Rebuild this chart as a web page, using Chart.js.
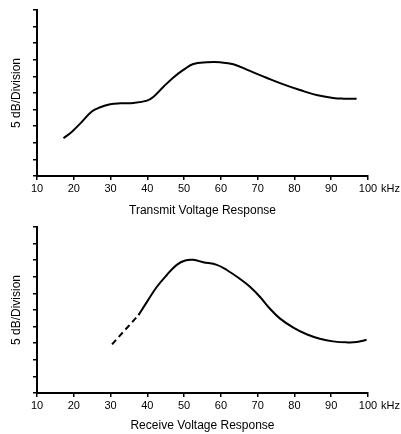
<!DOCTYPE html>
<html>
<head>
<meta charset="utf-8">
<script src="https://cdn.jsdelivr.net/npm/chart.js@4/dist/chart.umd.min.js"></script>
<style>
    body { margin: 0; background: #fff; }
    #wrap { position: relative; width: 401px; height: 434px; }
    canvas { position: absolute; left: 0; }
    #transmitChart { top: 0; }
    #receiveChart { top: 220px; }
</style>
</head>
<body>
<div id="wrap">
    <canvas id="transmitChart" width="401" height="220"></canvas>
    <canvas id="receiveChart" width="401" height="214"></canvas>
</div>
<script>
// frequency axis (kHz)
const freqTicks = [10, 20, 30, 40, 50, 60, 70, 80, 90, 100];

// level in divisions (5 dB per division)
const transmitFreq = [17.2, 19.5, 21.8, 24.9, 27.2, 29.9, 32.6, 36.2, 39.9, 41.7, 44.4, 47.1, 49.8, 52.5, 56.2, 59.8, 63.4, 67.9, 72.4, 77.0, 81.5, 86.0, 90.5, 93.3, 96.9];
const transmitLevel = [2.27, 2.67, 3.17, 3.88, 4.14, 4.32, 4.38, 4.40, 4.54, 4.78, 5.38, 5.94, 6.39, 6.75, 6.85, 6.85, 6.73, 6.33, 5.92, 5.52, 5.18, 4.88, 4.70, 4.66, 4.66];

const receiveDashFreq = [30.4, 37.6];
const receiveDashLevel = [2.93, 4.69];
const receiveFreq = [37.6, 39.9, 42.6, 45.3, 48.0, 50.3, 52.5, 55.2, 58.9, 61.6, 65.2, 67.9, 70.6, 73.3, 76.1, 79.7, 83.3, 86.9, 90.5, 94.2, 96.9, 99.6];
const receiveLevel = [4.69, 5.49, 6.40, 7.11, 7.72, 7.98, 8.02, 7.88, 7.72, 7.41, 6.87, 6.40, 5.80, 5.09, 4.48, 3.94, 3.54, 3.27, 3.11, 3.05, 3.07, 3.21];

const FONT = 'Liberation Sans, Arial, Helvetica, sans-serif';

function toPoints(xs, ys) {
    return xs.map((x, i) => ({ x: x, y: ys[i] }));
}

// writes "kHz" after the last tick label
const unitPlugin = {
    id: 'unitLabel',
    afterDraw(chart) {
        const xs = chart.scales.x;
        const ctx = chart.ctx;
        ctx.save();
        ctx.font = '11px ' + FONT;
        ctx.fillStyle = '#000';
        ctx.textAlign = 'left';
        ctx.textBaseline = 'middle';
        ctx.fillText('kHz', xs.right + 13, xs.top + 13);
        ctx.restore();
    }
};

function makeChart(id, datasets, title, padTop, xHeight, titlePad) {
    const ctx = document.getElementById(id).getContext('2d');
    return new Chart(ctx, {
        type: 'line',
        data: { datasets: datasets },
        options: {
            responsive: false,
            animation: false,
            layout: { padding: { top: padTop, right: 33, left: 0, bottom: 0 } },
            plugins: { legend: { display: false }, tooltip: { enabled: false } },
            elements: { point: { radius: 0 } },
            scales: {
                x: {
                    type: 'linear',
                    min: 10,
                    max: 100,
                    afterBuildTicks: scale => { scale.ticks = freqTicks.map(v => ({ value: v })); },
                    afterFit: scale => { scale.height = xHeight; },
                    grid: { drawOnChartArea: false, drawTicks: true, tickLength: 4, color: '#000', lineWidth: 1.5 },
                    border: { display: true, color: '#000', width: 2 },
                    ticks: { color: '#000', font: { family: FONT, size: 11 }, padding: 2, maxRotation: 0, autoSkip: false },
                    title: { display: true, text: title, color: '#000', font: { family: FONT, size: 12 }, padding: { top: 0, bottom: titlePad } }
                },
                y: {
                    min: 0,
                    max: 10,
                    afterFit: scale => { scale.width = 37; },
                    grid: { drawOnChartArea: false, drawTicks: true, tickLength: 4, color: '#000', lineWidth: 1.5 },
                    border: { display: true, color: '#000', width: 2 },
                    ticks: { display: false, stepSize: 1 },
                    title: { display: true, text: '5 dB/Division', color: '#000', font: { family: FONT, size: 12 }, padding: { top: 9, bottom: 0 } }
                }
            }
        },
        plugins: [unitPlugin]
    });
}

makeChart('transmitChart', [{
    data: toPoints(transmitFreq, transmitLevel),
    borderColor: '#000',
    borderWidth: 2,
    tension: 0.4,
    fill: false
}], 'Transmit Voltage Response', 10, 44, 2);

makeChart('receiveChart', [{
    data: toPoints(receiveDashFreq, receiveDashLevel),
    borderColor: '#000',
    borderWidth: 2,
    borderDash: [6, 4],
    fill: false
}, {
    data: toPoints(receiveFreq, receiveLevel),
    borderColor: '#000',
    borderWidth: 2,
    tension: 0.4,
    fill: false
}], 'Receive Voltage Response', 7, 41, 1);
</script>
</body>
</html>
